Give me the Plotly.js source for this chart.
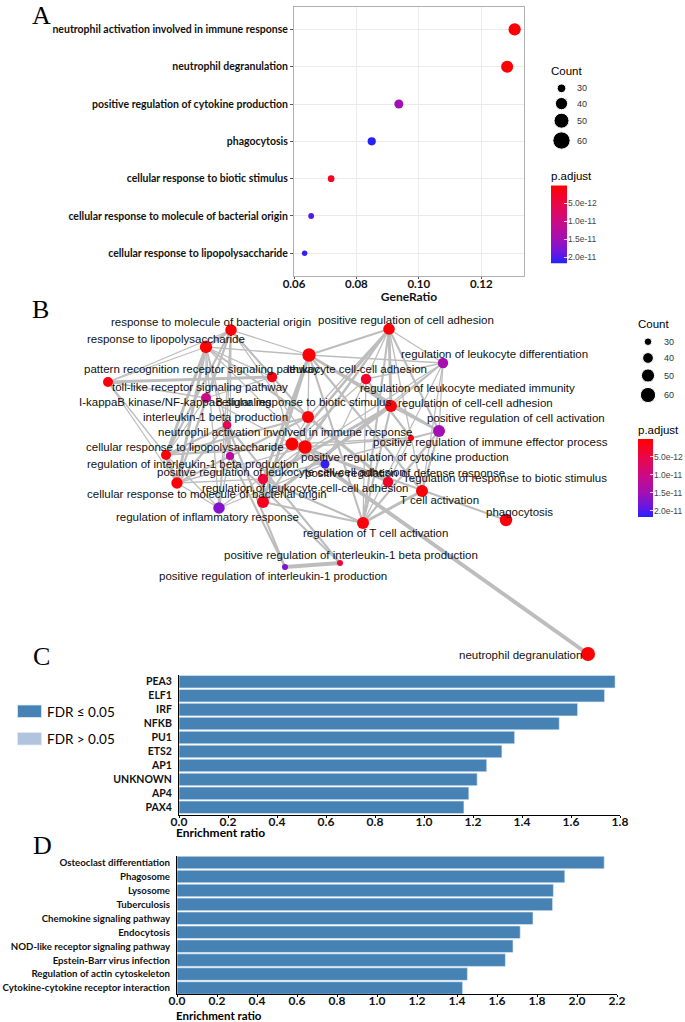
<!DOCTYPE html>
<html><head><meta charset="utf-8">
<script src="https://cdn.plot.ly/plotly-3.0.1.min.js"></script>
<style>html,body{margin:0;padding:0;background:#fff}#chart{width:685px;height:1022px}</style>
</head><body><div id="chart"></div>
<script>
// ---------------- DATA ----------------
// Panel A: GO dot plot
const catsA = ["neutrophil activation involved in immune response","neutrophil degranulation","positive regulation of cytokine production","phagocytosis","cellular response to biotic stimulus","cellular response to molecule of bacterial origin","cellular response to lipopolysaccharide"];
const geneRatioA = [0.1307, 0.1283, 0.0936, 0.0849, 0.0719, 0.0655, 0.0634];
const countA = [62, 61, 44, 40, 34, 31, 30];
const padjA = [3e-13, 6e-13, 1.5e-11, 2.15e-11, 2.5e-12, 2.0e-11, 2.1e-11];
const countLegend = [30, 40, 50, 60];
const padjTicks = [5e-12, 1e-11, 1.5e-11, 2e-11];
const padjTickText = ["5.0e-12", "1.0e-11", "1.5e-11", "2.0e-11"];
const padjRange = [1e-13, 2.175e-11];

// Panel B: enrichment map (node layout coordinates, counts, p.adjust)
const nodeNames = ["response to molecule of bacterial origin","positive regulation of cell adhesion","response to lipopolysaccharide","leukocyte cell-cell adhesion","pattern recognition receptor signaling pathway","toll-like receptor signaling pathway","regulation of leukocyte differentiation","regulation of leukocyte mediated immunity","I-kappaB kinase/NF-kappaB signaling","cellular response to biotic stimulus","regulation of cell-cell adhesion","interleukin-1 beta production","positive regulation of cell activation","positive regulation of immune effector process","neutrophil activation involved in immune response","positive regulation of defense response","cellular response to lipopolysaccharide","regulation of interleukin-1 beta production","positive regulation of cytokine production","cellular response to molecule of bacterial origin","positive regulation of leukocyte cell-cell adhesion","regulation of response to biotic stimulus","T cell activation","regulation of leukocyte cell-cell adhesion","regulation of inflammatory response","phagocytosis","regulation of T cell activation","positive regulation of interleukin-1 beta production","positive regulation of interleukin-1 production","neutrophil degranulation"];
const nodeX = [231,389,206,309,108,272,443,366,206,308,391,227,439,411,292,305,166,230,325,177,263,388,422,263,219,506,363,340,285,588];
const nodeY = [330,329,347,355,382,377,363,379,398,417,406,425,431,438,444,447,455,456,464,483,479,482,491,502,508,520,523,563,567,654];
const labelX = [211,406,166,357,202,200,494,467,175,303,475,215,516,490,285,405,185,193,405,207,281,506,439,305,207,519,375,351,273,520];
const labelY = [322,320,339,369,369,387,354,388,402,402,403,417,418,442,432,473,447,464,457,494,472,478,500,488,517,512,533,555,576,655];
const nodeCount = [48,49,53,59,40,42,42,42,40,51,51,34,51,24,57,60,40,32,35,47,42,42,51,51,48,54,51,24,24,65];
const nodePadj = [4e-13,5e-13,4e-13,5e-13,1e-12,1.5e-12,1.45e-11,3e-12,1e-11,6e-13,8e-13,6e-12,1.5e-11,1e-12,2e-13,3e-13,7e-13,1.25e-11,2.1e-11,8e-13,4e-12,3e-12,7e-13,2e-12,1.7e-11,9e-13,9e-13,4e-12,1.75e-11,3e-13];
const edgeFrom = [0,0,0,2,2,16,0,2,9,0,2,4,4,5,0,2,0,2,0,2,16,19,11,11,11,17,17,27,0,2,24,18,15,9,0,2,16,19,8,8,9,9,0,2,5,8,16,1,1,1,1,1,1,1,1,3,3,3,3,3,3,6,6,6,6,7,7,7,10,10,10,10,12,12,12,13,20,20,22,23,12,18,15,14,14,14,14,3,1,6,4,4,1,1,1,6,6,6,4,4,16,19,19,24,24,24];
const edgeTo   = [2,16,19,16,19,19,9,9,21,5,5,5,16,8,8,8,11,11,17,17,11,11,17,27,28,27,28,28,24,24,18,15,21,15,18,18,24,24,16,19,16,19,3,3,14,14,14,3,6,10,12,20,23,26,22,10,20,23,26,22,12,12,26,22,10,13,26,14,12,20,23,26,26,22,20,21,23,26,26,26,13,7,13,29,25,13,9,9,9,3,2,0,7,14,15,7,20,23,19,8,15,15,20,15,11,17];
const edgeW    = [3,2,2,3,3,4,2,2,3,1,1,3,1,1,1,1,1,1,1,1,2,2,3,2,2,2,2,4,1,1,1,2,2,1,1,1,1,1,1,1,2,2,1,1,1,1,1,2,1,3,2,2,2,2,1,2,3,3,2,2,2,1,1,1,1,2,1,1,2,3,3,2,2,2,1,1,4,2,3,2,1,1,1,4,2,1,1,1,1,1,1,1,1,2,1,1,1,1,1,1,1,1,1,1,1,1];

// Panel C: transcription factor enrichment
const tfC = ["PEA3","ELF1","IRF","NFKB","PU1","ETS2","AP1","UNKNOWN","AP4","PAX4"];
const erC = [1.78, 1.737, 1.627, 1.552, 1.370, 1.318, 1.256, 1.217, 1.183, 1.163];
const fdrGroupC = ["FDR ≤ 0.05","FDR ≤ 0.05","FDR ≤ 0.05","FDR ≤ 0.05","FDR ≤ 0.05","FDR ≤ 0.05","FDR ≤ 0.05","FDR ≤ 0.05","FDR ≤ 0.05","FDR ≤ 0.05"];
const ticksC = [0,0.2,0.4,0.6,0.8,1.0,1.2,1.4,1.6,1.8];

// Panel D: KEGG pathway enrichment
const keggD = ["Osteoclast differentiation","Phagosome","Lysosome","Tuberculosis","Chemokine signaling pathway","Endocytosis","NOD-like receptor signaling pathway","Epstein-Barr virus infection","Regulation of actin cytoskeleton","Cytokine-cytokine receptor interaction"];
const erD = [2.136, 1.939, 1.882, 1.878, 1.78, 1.716, 1.68, 1.642, 1.452, 1.428];
const ticksD = [0,0.2,0.4,0.6,0.8,1.0,1.2,1.4,1.6,1.8,2.0,2.2];

const fdrLegend = ["FDR ≤ 0.05", "FDR > 0.05"];

// ---------------- STYLE / HELPERS ----------------
const W = 685, H = 1022;
const fx = (a, b) => [a / W, b / W];
const fy = (t, b) => [1 - b / H, 1 - t / H];
const CAL = "Lato, 'Liberation Sans', sans-serif";
const HELV = "'Liberation Sans', Arial, sans-serif";
const SERIF = "'Liberation Serif', 'Times New Roman', serif";
const CS = [[0, '#ff0000'], [0.23, '#ea0646'], [0.46, '#cc0a84'], [0.69, '#a210b4'], [0.85, '#7016dc'], [1, '#2222ff']];
const fdrColor = {"FDR ≤ 0.05": '#4682b4', "FDR > 0.05": '#b0c4de'};
const sizeA = c => Math.sqrt(Math.max(9, -82.5 + 3.75 * c));
const sizeLeg = c => Math.sqrt(75 + 7.5 * (c - 30));
const sizeNet = c => Math.sqrt(Math.max(25, 4 * c - 60));
const fmt1 = v => v.toFixed(1);

const traces = [];

// Panel A dots
traces.push({type: 'scatter', mode: 'markers', x: geneRatioA, y: catsA, xaxis: 'x', yaxis: 'y',
  marker: {size: countA.map(sizeA), opacity: 1, color: padjA, colorscale: CS, cmin: padjRange[0], cmax: padjRange[1], line: {width: 0}},
  hoverinfo: 'skip'});

// Colorbars (A and B) as heatmaps on dedicated axes
function colorbarTrace(xa, ya) {
  const n = 90, ys = [], zs = [];
  for (let i = 0; i < n; i++) {
    const v = padjRange[0] + (padjRange[1] - padjRange[0]) * i / (n - 1);
    ys.push(v); zs.push([v]);
  }
  return {type: 'heatmap', x: [0], y: ys, z: zs, colorscale: CS, zmin: padjRange[0], zmax: padjRange[1],
    showscale: false, xaxis: xa, yaxis: ya, hoverinfo: 'skip'};
}
traces.push(colorbarTrace('x4', 'y4'));
traces.push(colorbarTrace('x5', 'y5'));

// Panel B edges grouped by width
const widthPx = {1: 1.3, 2: 2.1, 3: 2.9, 4: 3.9};
[1, 2, 3, 4].forEach(w => {
  const xs = [], ys = [];
  edgeFrom.forEach((a, i) => {
    if (edgeW[i] !== w) return;
    const b = edgeTo[i];
    xs.push(nodeX[a], nodeX[b], null);
    ys.push(nodeY[a], nodeY[b], null);
  });
  traces.push({type: 'scatter', mode: 'lines', x: xs, y: ys, xaxis: 'x3', yaxis: 'y3',
    line: {color: '#bdbdbd', width: widthPx[w]}, hoverinfo: 'skip'});
});
// Panel B nodes
traces.push({type: 'scatter', mode: 'markers', x: nodeX, y: nodeY, xaxis: 'x3', yaxis: 'y3',
  marker: {size: nodeCount.map(sizeNet), opacity: 1, color: nodePadj, colorscale: CS, cmin: padjRange[0], cmax: padjRange[1], line: {width: 0}},
  text: nodeNames, hoverinfo: 'skip'});

// Count legends (A and B)
const legYA = [88.3, 103.6, 120.7, 140.5], legYB = [341.7, 358, 375.5, 395];
traces.push({type: 'scatter', mode: 'markers', x: countLegend.map(() => 561.5), y: legYA,
  xaxis: 'x3', yaxis: 'y3', marker: {size: countLegend.map(sizeLeg), opacity: 1, color: '#000'}, hoverinfo: 'skip'});
traces.push({type: 'scatter', mode: 'markers', x: countLegend.map(() => 648), y: legYB,
  xaxis: 'x3', yaxis: 'y3', marker: {size: countLegend.map(c => sizeLeg(c) * 0.88), opacity: 1, color: '#000'}, hoverinfo: 'skip'});

// Panel C bars
traces.push({type: 'bar', orientation: 'h', x: erC, y: tfC, xaxis: 'x6', yaxis: 'y6', width: 0.9,
  marker: {color: fdrGroupC.map(g => fdrColor[g]), line: {color: '#e6eef6', width: 0.6}}, hoverinfo: 'skip'});
// Panel D bars
traces.push({type: 'bar', orientation: 'h', x: erD, y: keggD, xaxis: 'x7', yaxis: 'y7', width: 0.9,
  marker: {color: '#4682b4', line: {color: '#e6eef6', width: 0.6}}, hoverinfo: 'skip'});

// ---------------- ANNOTATIONS ----------------
const ann = [];
const A3 = (x, y, text, opt) => Object.assign({xref: 'x3', yref: 'y3', x: x, y: y, text: text, showarrow: false,
  xanchor: 'left', yanchor: 'middle', font: {family: HELV, size: 12, color: '#000'}}, opt || {});
// panel letters
[['A', 30, 15], ['B', 30, 309], ['C', 31, 656], ['D', 31, 845]].forEach(p =>
  ann.push(A3(p[1], p[2], p[0], {font: {family: SERIF, size: 26, color: '#000'}})));
// A legend
ann.push(A3(549, 71, 'Count', {font: {family: HELV, size: 11.5, color: '#000'}}));
countLegend.forEach((c, i) => ann.push(A3(575, legYA[i], String(c), {font: {family: HELV, size: 9, color: '#333'}})));
ann.push(A3(549, 176, 'p.adjust', {font: {family: HELV, size: 11.5, color: '#000'}}));
// B legend
ann.push(A3(636, 324, 'Count', {font: {family: HELV, size: 11.5, color: '#000'}}));
countLegend.forEach((c, i) => ann.push(A3(662, legYB[i], String(c), {font: {family: HELV, size: 9, color: '#333'}})));
ann.push(A3(636, 430, 'p.adjust', {font: {family: HELV, size: 11.5, color: '#000'}}));
// B node labels
nodeNames.forEach((n, i) => ann.push(A3(labelX[i], labelY[i], n, {xanchor: 'center', font: {family: HELV, size: 11.5, color: '#111'}})));
// C legend text
ann.push(A3(45, 711.5, fdrLegend[0], {font: {family: CAL, size: 13.5, color: '#000'}}));
ann.push(A3(45, 739, fdrLegend[1], {font: {family: CAL, size: 13.5, color: '#000'}}));
// Enrichment ratio titles
ann.push(A3(174, 832.5, 'Enrichment ratio', {font: {family: CAL, size: 12, color: '#000', weight: 'bold'}}));
ann.push(A3(174, 1015.5, 'Enrichment ratio', {font: {family: CAL, size: 11.5, color: '#000', weight: 'bold'}}));

const shapes = [
  {type: 'rect', xref: 'x3', yref: 'y3', x0: 17.5, x1: 41.5, y0: 705, y1: 717.5, fillcolor: fdrColor[fdrLegend[0]], line: {color: '#dfe8f2', width: 0.8}},
  {type: 'rect', xref: 'x3', yref: 'y3', x0: 17.5, x1: 41.5, y0: 732.5, y1: 745, fillcolor: fdrColor[fdrLegend[1]], line: {color: '#dfe8f2', width: 0.8}}
];

const boldTick = (s) => ({family: CAL, size: s, color: '#111', weight: 'bold'});
const cbAxis = (dom, anchor) => ({domain: dom, anchor: anchor, range: [padjRange[1], padjRange[0]], side: 'right',
  tickvals: padjTicks, ticktext: padjTickText, ticks: 'inside', ticklen: 3, tickcolor: 'rgba(255,255,255,0.8)',
  showgrid: false, zeroline: false, showline: false, tickfont: {family: HELV, size: 8.5, color: '#444'}, fixedrange: true});

const layout = {
  width: W, height: H, margin: {l: 0, r: 0, t: 0, b: 0}, showlegend: false,
  paper_bgcolor: '#fff', plot_bgcolor: 'rgba(0,0,0,0)', font: {family: HELV, color: '#000'},
  // Panel A
  xaxis: {domain: fx(294, 524), anchor: 'y', range: [0.06, 0.1337], tickvals: [0.06, 0.08, 0.10, 0.12],
    ticktext: ['0.06', '0.08', '0.10', '0.12'], showgrid: true, gridcolor: '#ebebeb', gridwidth: 1,
    showline: true, mirror: true, linecolor: '#b0b0b0', linewidth: 1, ticks: 'outside', ticklen: 2, tickcolor: '#555',
    ticklabelstandoff: -5, zeroline: false, tickfont: boldTick(11.5),
    title: {text: 'GeneRatio', font: boldTick(12), standoff: 0}},
  yaxis: {domain: fy(7, 275.7), anchor: 'x', type: 'category', categoryorder: 'array', categoryarray: catsA,
    tickmode: 'array', tickvals: catsA, ticktext: catsA,
    range: [6.6, -0.6], showgrid: true, gridcolor: '#ebebeb', showline: true, mirror: true, linecolor: '#b0b0b0',
    ticks: 'outside', ticklen: 3, tickcolor: '#555', tickfont: boldTick(10.5)},
  // overlay (layout coordinates for network/legends)
  xaxis3: {domain: [0, 1], anchor: 'y3', range: [0, W], visible: false, fixedrange: true},
  yaxis3: {domain: [0, 1], anchor: 'x3', range: [H, 0], visible: false, fixedrange: true},
  // colorbars
  xaxis4: {domain: fx(551, 567), anchor: 'y4', range: [-0.5, 0.5], visible: false},
  yaxis4: cbAxis(fy(185.5, 263.3), 'x4'),
  xaxis5: {domain: fx(638, 653), anchor: 'y5', range: [-0.5, 0.5], visible: false},
  yaxis5: cbAxis(fy(439, 517), 'x5'),
  // Panel C
  xaxis6: {domain: fx(179, 620), anchor: 'y6', range: [0, 1.8], tickvals: ticksC, ticktext: ticksC.map(fmt1),
    showline: true, linecolor: '#000', linewidth: 1, ticks: 'outside', ticklen: 2, tickcolor: '#000',
    ticklabelstandoff: -6, showgrid: false, zeroline: false, tickfont: boldTick(12)},
  yaxis6: {domain: fy(675, 815), anchor: 'x6', type: 'category', categoryorder: 'array', categoryarray: tfC,
    tickmode: 'array', tickvals: tfC, ticktext: tfC,
    range: [9.55, -0.48], showline: true, linecolor: '#000', linewidth: 1, ticks: '', ticklabelstandoff: 4,
    showgrid: false, tickfont: boldTick(10.5)},
  // Panel D
  xaxis7: {domain: fx(177, 617), anchor: 'y7', range: [0, 2.2], tickvals: ticksD, ticktext: ticksD.map(fmt1),
    showline: true, linecolor: '#000', linewidth: 1, ticks: 'outside', ticklen: 2, tickcolor: '#000',
    ticklabelstandoff: -6, showgrid: false, zeroline: false, tickfont: boldTick(12)},
  yaxis7: {domain: fy(856, 994), anchor: 'x7', type: 'category', categoryorder: 'array', categoryarray: keggD,
    tickmode: 'array', tickvals: keggD, ticktext: keggD,
    range: [9.43, -0.47], showline: true, linecolor: '#000', linewidth: 1, ticks: '', ticklabelstandoff: 4,
    showgrid: false, tickfont: boldTick(9.7)},
  annotations: ann, shapes: shapes
};

Plotly.newPlot('chart', traces, layout, {staticPlot: true, displayModeBar: false});
</script></body></html>
